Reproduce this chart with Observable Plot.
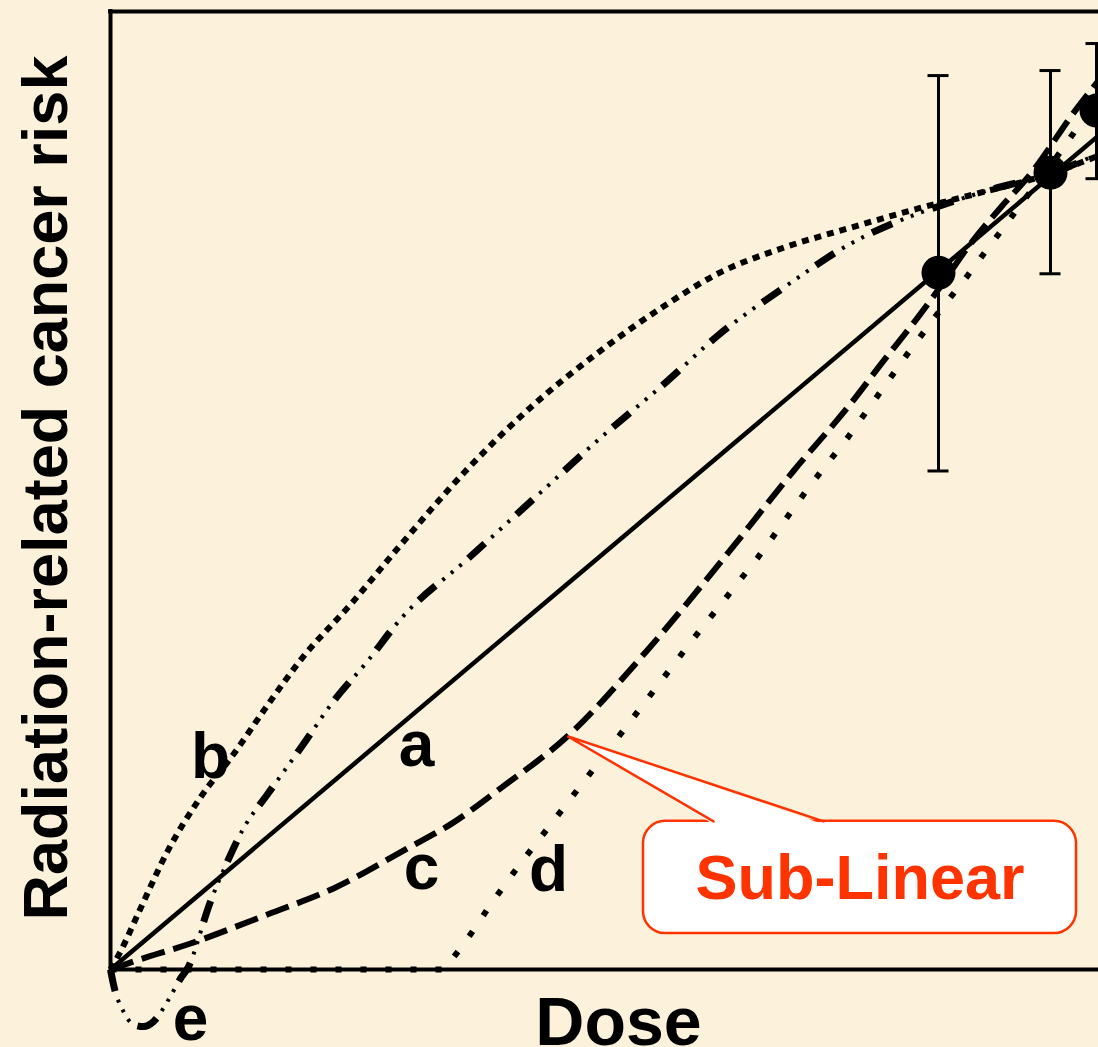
<!DOCTYPE html>
<html><head><meta charset="utf-8">
<script src="https://cdn.jsdelivr.net/npm/d3@7"></script>
<script src="https://cdn.jsdelivr.net/npm/@observablehq/plot@0.6"></script>
<style>
html,body{margin:0;padding:0;background:#FCF1DA;}
#chart svg{display:block;}
</style></head><body><div id="chart"></div>
<script>
// ---- data (dose / risk in arbitrary units) ----
const aDose = [0, 98.8];
const aRisk = [0, 83.3];
const bDose = [0, 1, 3, 5.7, 9, 12.3, 15.7, 19, 24.3, 29, 35.7, 42.3, 49, 55.7, 60.7, 67.3, 74, 80.7, 87, 94, 98.8];
const bRisk = [0, 1.8, 6.1, 11.8, 17.2, 21.5, 26.4, 30.9, 36.8, 42.4, 50.0, 56.4, 61.8, 66.5, 69.5, 72.1, 74.1, 76.0, 77.6, 79.5, 81.3];
const cDose = [0, 2.3, 8, 15.7, 22.3, 29.7, 34, 39, 45.7, 53.6, 61.1, 68.3, 74, 77.3, 80.7, 82.7, 85.7, 89, 91.7, 96.7, 98.8];
const cRisk = [0, 0.8, 2.6, 5.5, 8.1, 12.1, 14.5, 18.1, 23.3, 31.8, 40.8, 49.8, 56.5, 60.8, 65.1, 67.8, 72.1, 76.1, 79.1, 86.1, 88.8];
const dDose = [0, 33.3, 35, 36.7, 38, 41, 44.1, 47.2, 50, 58.1, 64.7, 70, 73.7, 76.7, 79.7, 82.7, 85.7, 87.7, 89.3, 91, 94, 96.7, 98.8];
const dRisk = [0, 0, 2.1, 4.5, 6.5, 10.6, 14.6, 18.6, 22.2, 32.8, 41.1, 48.4, 53.1, 57.3, 61.5, 65.5, 69.3, 72.0, 74.1, 76.4, 80.3, 84.1, 86.8];
const eDose = [0, 0.3, 1.3, 2.3, 3.3, 4.3, 5.7, 7, 7.7, 10, 11.7, 13.3, 15.7, 19, 22.3, 25.7, 29, 35.7, 42.3, 49, 55.7, 60.7, 67.3, 74, 80.7, 83, 88, 94, 98.8];
const eRisk = [0, -1.5, -4.2, -5.5, -5.7, -5.2, -3.2, -0.9, 0.1, 6.8, 10.8, 14.1, 17.5, 22.1, 26.8, 30.8, 35.0, 41.0, 47.0, 53.1, 58.8, 63.3, 68.1, 72.5, 75.5, 76.3, 77.9, 79.5, 81.5];

const obsDose = [82.8, 94.0, 98.6];
const obsRisk = [69.6, 79.6, 85.8];
const obsLow  = [49.8, 69.5, 79.0];
const obsHigh = [89.3, 89.8, 92.5];

const labelText = ["a", "b", "c", "d", "e"];
const labelDose = [30.6, 10.0, 31.1, 43.8, 8.0];
const labelRisk = [20.3, 19.1, 8.0, 7.8, -7.0];

const xTitle = "Dose";
const yTitle = "Radiation-related cancer risk";
const calloutText = "Sub-Linear";
// callout box and pointer (data units)
const boxDose = [53.3, 96.6];
const boxRisk = [3.6, 14.8];
const pointerDose = [60.3, 45.7, 71.3];
const pointerRisk = [14.8, 23.3, 14.8];

// ---- build ----
const toRows = (xs, ys) => xs.map((x, i) => ({x, y: ys[i]}));
const obs = obsDose.map((x, i) => ({x, y: obsRisk[i], lo: obsLow[i], hi: obsHigh[i]}));
const labels = labelText.map((t, i) => ({t, x: labelDose[i], y: labelRisk[i]}));
const pointer = toRows(pointerDose, pointerRisk);
const pointerFill = pointer.map((p, i) => ({x: p.x, y: i === 1 ? p.y : p.y - 0.3}));
const eRows = toRows(eDose, eRisk);

const X_MAX = 98.8, Y_MAX = 95.7;
const font = "Liberation Sans, Arial, Helvetica, sans-serif";
const red = "#FF3300";
const lineOpts = {x: "x", y: "y", stroke: "black", strokeWidth: 6, curve: "monotone-x", strokeLinecap: "butt"};

const chart = Plot.plot({
  width: 1098,
  height: 1047,
  marginLeft: 110,
  marginRight: 0,
  marginTop: 11,
  marginBottom: 78,
  style: {background: "#FCF1DA", fontFamily: font, overflow: "visible"},
  x: {domain: [0, X_MAX], axis: null},
  y: {domain: [0, Y_MAX], axis: null},
  marks: [
    // frame
    Plot.ruleY([Y_MAX], {x1: 0, x2: X_MAX + 1, stroke: "black", strokeWidth: 4, strokeLinecap: "square"}),
    Plot.ruleX([0], {y1: 0, y2: Y_MAX, stroke: "black", strokeWidth: 4, strokeLinecap: "square"}),
    Plot.ruleY([0], {x1: 0, x2: X_MAX + 1, stroke: "black", strokeWidth: 4}),
    // curves
    Plot.line(toRows(aDose, aRisk), {...lineOpts, strokeWidth: 4.5, curve: "linear"}),
    Plot.line(toRows(bDose, bRisk), {...lineOpts, strokeDasharray: "7,6"}),
    Plot.line(toRows(cDose, cRisk), {...lineOpts, strokeDasharray: "24,9"}),
    Plot.line(toRows(dDose, dRisk), {...lineOpts, curve: "linear", strokeDasharray: "6,19"}),
    Plot.line(eRows, {...lineOpts, strokeWidth: 7, strokeDasharray: "22,43"}),
    Plot.line(eRows, {...lineOpts, strokeWidth: 4, strokeDasharray: "0,31,3,8,3,8,3,9"}),
    // error bars
    Plot.ruleX(obs, {x: "x", y1: "lo", y2: "hi", stroke: "black", strokeWidth: 3}),
    Plot.ruleY(obs, {y: "lo", x1: d => d.x - 1.05, x2: d => d.x + 1.05, stroke: "black", strokeWidth: 3}),
    Plot.ruleY(obs, {y: "hi", x1: d => d.x - 1.05, x2: d => d.x + 1.05, stroke: "black", strokeWidth: 3}),
    Plot.dot(obs, {x: "x", y: "y", r: 17, fill: "black", stroke: "none"}),
    // curve labels
    Plot.text(labels, {x: "x", y: "y", text: "t", fontSize: 64, fontWeight: "bold", fill: "black", lineAnchor: "bottom", textAnchor: "middle", fontFamily: font}),
    // axis titles
    Plot.text([xTitle], {x: 50.8, y: -7.5, text: d => d, fontSize: 68, fontWeight: "bold", fill: "black", lineAnchor: "bottom", textAnchor: "middle", fontFamily: font}),
    Plot.text([yTitle], {x: -4.4, y: 48.1, text: d => d, rotate: -90, fontSize: 63, fontWeight: "bold", fill: "black", lineAnchor: "bottom", textAnchor: "middle", fontFamily: font}),
    // callout
    Plot.rect([0], {x1: boxDose[0], x2: boxDose[1], y1: boxRisk[0], y2: boxRisk[1], rx: 22, fill: "white", stroke: red, strokeWidth: 2.5}),
    Plot.line(pointerFill, {x: "x", y: "y", fill: "white", stroke: "none", curve: "linear"}),
    Plot.line(pointer, {x: "x", y: "y", stroke: red, strokeWidth: 2.5, fill: "none", curve: "linear", strokeLinejoin: "miter"}),
    Plot.text([calloutText], {x: (boxDose[0] + boxDose[1]) / 2, y: 7.0, text: d => d, fontSize: 63, fontWeight: "bold", fill: red, lineAnchor: "bottom", textAnchor: "middle", fontFamily: font})
  ]
});
document.getElementById("chart").appendChild(chart);
</script>
</body></html>
